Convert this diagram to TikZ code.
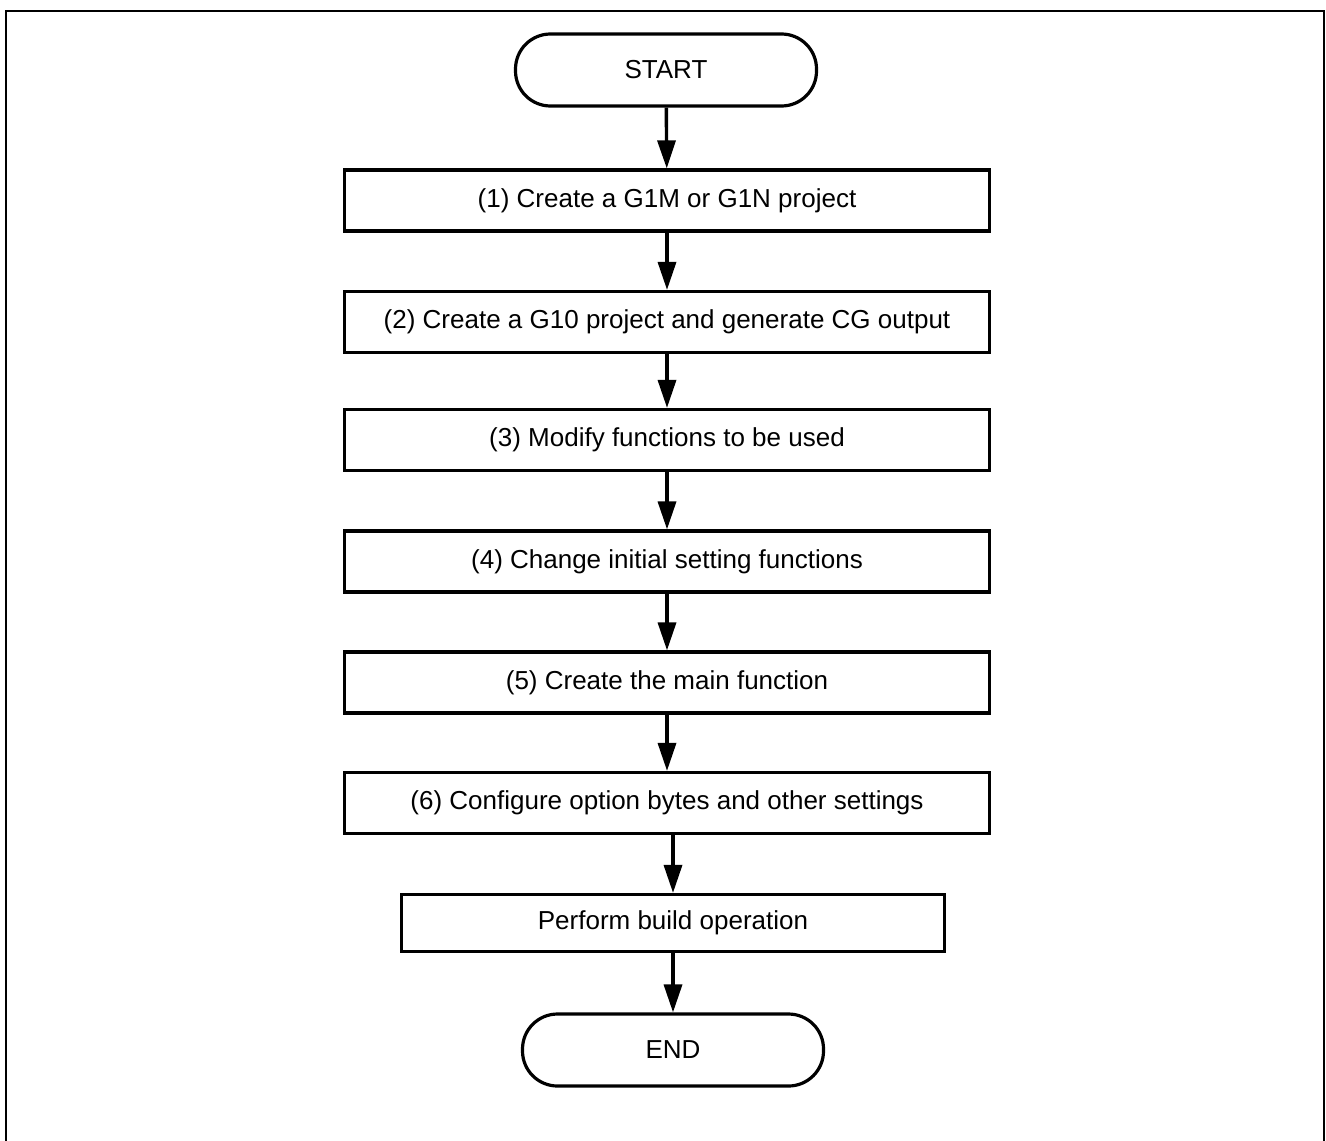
\documentclass[tikz,border=0pt]{standalone}
\usepackage{fontspec}
\setmainfont{Liberation Sans}
\usetikzlibrary{arrows.meta}
\tikzset{
  stepbox/.style={draw, line width=1.6pt, minimum width=322.4pt, minimum height=30.5pt, inner sep=0pt},
  termbox/.style={draw, line width=1.6pt, rounded corners=17.5pt, minimum width=150.5pt, minimum height=36pt, inner sep=0pt},
  flow/.style={-{Triangle[length=14pt,width=9pt]}, line width=1.7pt}
}
\begin{document}
\begin{tikzpicture}[x=0.5pt,y=-0.5pt,font=\fontsize{13pt}{15pt}\selectfont]
\useasboundingbox (0,0) rectangle (1326,1140);
\draw[line width=1pt] (5.5,1150) -- (5.5,11) -- (1324,11) -- (1324,1150);
%%
\node[termbox] (start) at (666,70) {START};
\node[stepbox] (b1) at (667,200.5) {(1) Create a G1M or G1N project};
\node[stepbox] (b2) at (667,322) {(2) Create a G10 project and generate CG output};
\node[stepbox] (b3) at (667,440) {(3) Modify functions to be used};
\node[stepbox] (b4) at (667,561.5) {(4) Change initial setting functions};
\node[stepbox] (b5) at (667,682.5) {(5) Create the main function};
\node[stepbox] (b6) at (667,803) {(6) Configure option bytes and other settings};
\node[stepbox, minimum width=271.5pt, minimum height=28.5pt] (build) at (673,923) {Perform build operation};
\node[termbox] (end) at (673,1050) {END};
%%
\draw[flow] (start) -- (b1);
\draw[flow] (b1) -- (b2);
\draw[flow] (b2) -- (b3);
\draw[flow] (b3) -- (b4);
\draw[flow] (b4) -- (b5);
\draw[flow] (b5) -- (b6);
\draw[flow] (build |- b6.south) -- (build.north);
\draw[flow] (build) -- (end);
\end{tikzpicture}
\end{document}
